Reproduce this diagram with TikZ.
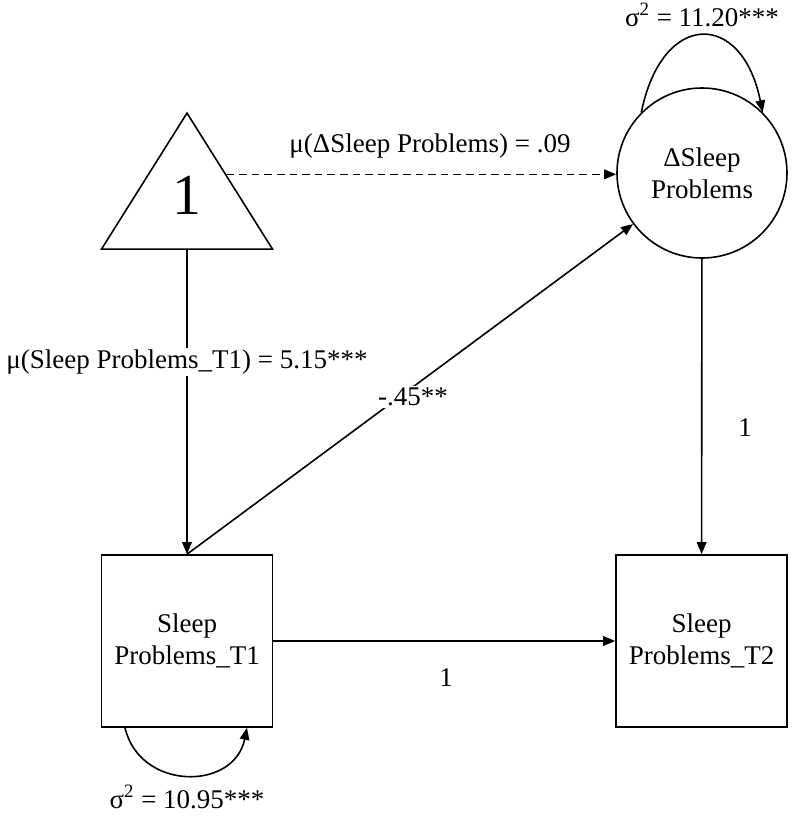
\documentclass[tikz,border=0pt]{standalone}
\usepackage{fontspec}
\setmainfont{Liberation Serif}
\usetikzlibrary{positioning,arrows.meta,calc,shapes.geometric}

\begin{document}
\begin{tikzpicture}[
  x=0.5pt, y=-0.5pt,
  font=\fontsize{13.5}{16}\selectfont,
  observed/.style={
    draw, line width=0.8pt, inner sep=0pt,
    minimum width=85.5pt, minimum height=86pt,
    align=center,
  },
  latent/.style={
    draw, circle, line width=0.8pt, inner sep=0pt,
    minimum size=85pt, align=center,
  },
  constant/.style={
    draw, isosceles triangle, isosceles triangle stretches,
    shape border rotate=90, line width=0.8pt, inner sep=0pt,
    minimum width=85.5pt, minimum height=68pt,
  },
  regpath/.style={-{Triangle[length=6pt,width=4.8pt]}, line width=0.8pt},
  meanpath/.style={regpath, dash pattern=on 3.8pt off 2.5pt},
  lbl/.style={fill=white, inner sep=1pt},
]
\useasboundingbox (0,0) rectangle (795,816);

% Nodes
\node[constant, anchor=apex] (one) at (187,111) {};
\node[font=\fontsize{29}{30}\selectfont] (onetxt) at (187,195) {1};
\node[latent] (delta) at (702,173) {ΔSleep\\Problems};
\node[observed] (t1) at (187,641) {Sleep\\Problems\_T1};
\node[observed] (t2) at (701.5,641) {Sleep\\Problems\_T2};

% Start of the mean path on the triangle's right side
\coordinate (oneR) at ($(one.apex)!0.456!(one.right corner)$);

% Paths
\draw[meanpath] (oneR) -- (oneR -| delta.west);
\draw[regpath] (one) -- (t1);
\draw[regpath] (t1.north) -- (delta);
\draw[regpath] (delta) -- (t2);
\draw[regpath] (t1) -- (t2);

% Variances
\draw[regpath] (delta.135) .. controls (662,10) and (742,10) .. (delta.45);
\coordinate (t1varA) at ($(t1.south)+(-62,0)$);
\coordinate (t1varB) at ($(t1.south)+(60,0)$);
\draw[regpath] (t1varA) .. controls (140,791) and (234,791) .. (t1varB);

% Labels
\node (deltavar) at (702,15) {σ\textsuperscript{2} = 11.20***};
\node (t1var) at (187,797) {σ\textsuperscript{2} = 10.95***};
\node (deltamean) at (430,146) {μ(ΔSleep Problems) = .09};
\node[lbl] (t1mean) at (187,362) {μ(Sleep Problems\_T1) = 5.15***};
\node[lbl] (beta) at (413,397) {-.45**};
\node (loaddelta) at (745,428) {1};
\node (loadt1) at (446,678) {1};

\end{tikzpicture}
\end{document}
